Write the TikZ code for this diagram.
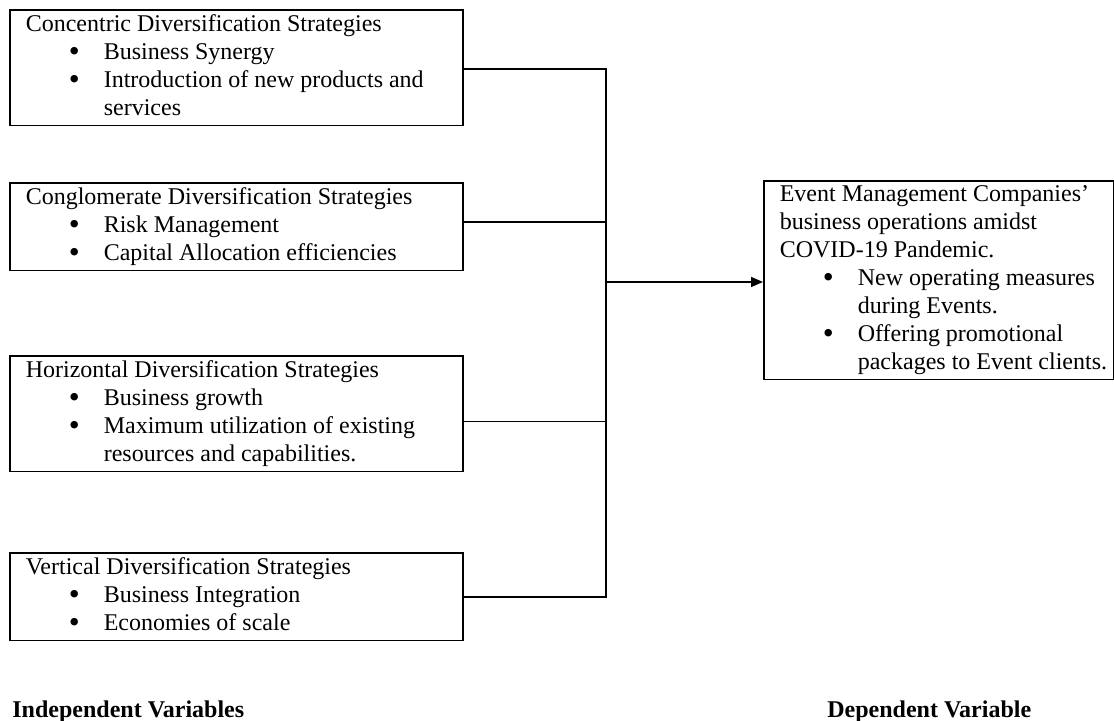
\documentclass[tikz,border=0pt]{standalone}
\usepackage{fontspec}
\usepackage{graphicx}
\setmainfont{Liberation Serif}
\usetikzlibrary{arrows.meta,positioning,calc}
\newcommand{\bitem}[1]{\hspace*{21.5pt}\makebox[17.5pt][l]{\raisebox{-0.8pt}{\scalebox{1.3}{\textbullet}}}#1}
\newcommand{\bcont}[1]{\hspace*{39pt}#1}
\tikzset{
  >={Triangle[length=6pt,width=5pt]},
  ivbox/.style={draw,line width=0.8pt,anchor=north west,inner xsep=8pt,inner ysep=2.4pt,
    text width=210.5pt,align=flush left,font=\fontsize{12}{14}\selectfont,
    execute at end node={\vphantom{p}}},
  dvbox/.style={ivbox,text width=159pt},
  link/.style={line width=0.8pt},
  tag/.style={anchor=base west,inner sep=0pt,font=\fontsize{12}{14}\selectfont\bfseries},
}
\begin{document}
\begin{tikzpicture}[x=0.5pt,y=-0.5pt]
  \useasboundingbox (0,0) rectangle (1114,721);
  % independent variables
  \node[ivbox] (conc) at (9,9) {Concentric Diversification Strategies\\
    \bitem{Business Synergy}\\
    \bitem{Introduction of new products and}\\
    \bcont{services}};
  \node[ivbox] (cong) at (9,182) {Conglomerate Diversification Strategies\\
    \bitem{Risk Management}\\
    \bitem{Capital Allocation efficiencies}};
  \node[ivbox] (hori) at (9,355) {Horizontal Diversification Strategies\\
    \bitem{Business growth}\\
    \bitem{Maximum utilization of existing}\\
    \bcont{resources and capabilities.}};
  \node[ivbox] (vert) at (9,552) {Vertical Diversification Strategies\\
    \bitem{Business Integration}\\
    \bitem{Economies of scale}};
  % dependent variable
  \node[dvbox] (dep) at (763,180) {Event Management Companies’\\
    business operations amidst\\
    COVID-19 Pandemic.\\
    \bitem{New operating measures}\\
    \bcont{during Events.}\\
    \bitem{Offering promotional}\\
    \bcont{\mbox{packages to Event clients.}}};
  % connectors
  \coordinate (bus) at (606,282);
  \foreach \b/\d in {conc/1.5,cong/-4.5,hori/8,vert/0.5}
    \draw[link] ($(\b.east)+(0,\d)$) -| (bus);
  \draw[link,->] (bus) -- (bus -| dep.west);
  \node[tag] (iv) at (12,717) {Independent Variables};
  \node[tag] (dv) at (827,717) {Dependent Variable};
\end{tikzpicture}
\end{document}
